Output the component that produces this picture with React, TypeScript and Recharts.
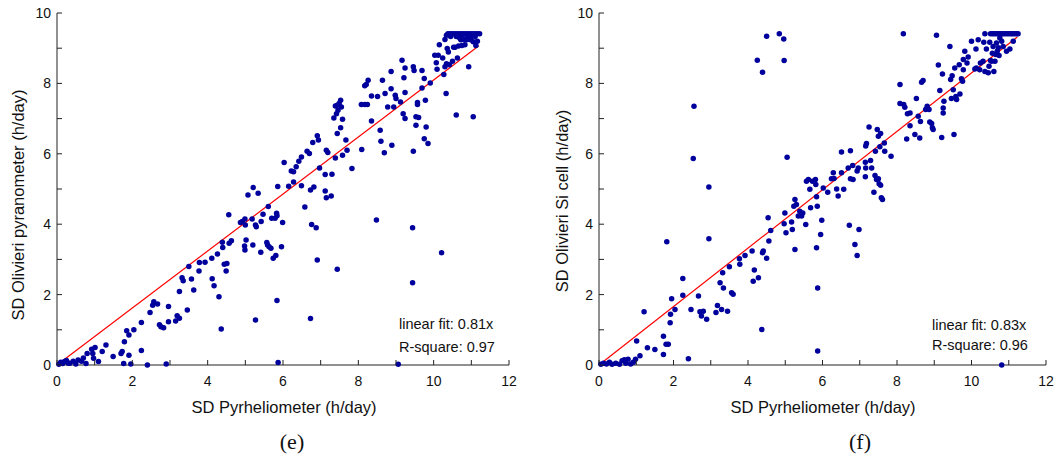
import React from 'react';
import { ScatterChart, Scatter, XAxis, YAxis, ReferenceLine } from 'recharts';

// axis ticks (minor every 1, labels every 2)
const xTicks = [0, 1, 2, 3, 4, 5, 6, 7, 8, 9, 10, 11, 12];
const yTicks = [0, 1, 2, 3, 4, 5, 6, 7, 8, 9, 10];
const xTickLabels = [0, 2, 4, 6, 8, 10, 12];
const yTickLabels = [0, 2, 4, 6, 8, 10];

// (e) SD pyrheliometer vs SD Olivieri pyranometer, h/day
const pyranometerPoints: [number, number][] = [
  [0.05, 0.02], [0.1, 0.08], [0.15, 0.04], [0.2, 0.1], [0.25, 0.13], [0.3, 0.05], [0.34, 0.05], [0.43, 0.11],
  [0.5, 0.03], [0.56, 0.14], [0.65, 0.11], [0.7, 0.2], [0.77, 0.04], [0.8, 0.33], [0.92, 0.45], [0.95, 0.33],
  [0.97, 0.19], [1.01, 0.5], [1.1, 0.1], [1.2, 0.38], [1.3, 0.57], [1.49, 0.24], [1.7, 0.33], [1.73, 0.38],
  [1.77, 0.04], [1.79, 0.66], [1.85, 0.97], [1.91, 0.85], [1.91, 0.28], [1.96, 0.03], [2.04, 1.0], [2.24, 0.41],
  [2.24, 1.21], [2.4, 0.0], [2.47, 1.49], [2.54, 1.7], [2.57, 1.8], [2.67, 1.73], [2.72, 1.14], [2.76, 1.09],
  [2.83, 1.06], [2.9, 0.03], [2.96, 1.66], [2.96, 1.23], [3.15, 1.25], [3.19, 1.4], [3.25, 1.33], [3.25, 2.09],
  [3.32, 2.48], [3.35, 2.39], [3.46, 1.56], [3.5, 2.8], [3.57, 2.44], [3.63, 2.13], [3.77, 2.67], [3.78, 2.91],
  [3.93, 2.92], [4.11, 3.03], [4.12, 2.45], [4.17, 2.25], [4.26, 3.15], [4.3, 1.94], [4.36, 1.02], [4.39, 3.49],
  [4.4, 3.34], [4.44, 2.86], [4.51, 2.88], [4.49, 2.67], [4.56, 4.27], [4.57, 3.46], [4.63, 3.53], [4.87, 4.05],
  [4.92, 4.08], [4.99, 4.15], [5.0, 3.98], [5.02, 3.55], [4.98, 3.38], [4.99, 3.27], [5.07, 4.83], [5.18, 4.15],
  [5.2, 3.41], [5.21, 5.04], [5.27, 3.98], [5.29, 3.93], [5.34, 4.88], [5.27, 1.28], [5.41, 3.2], [5.42, 4.08],
  [5.47, 4.28], [5.57, 3.48], [5.59, 3.41], [5.61, 4.5], [5.63, 3.36], [5.68, 3.32], [5.7, 4.17], [5.74, 3.03],
  [5.79, 4.17], [5.81, 3.11], [5.83, 4.31], [5.86, 5.07], [5.84, 1.83], [5.87, 0.07], [5.96, 3.36], [5.99, 4.05],
  [5.84, 4.24], [6.03, 5.75], [6.15, 5.08], [6.22, 5.51], [6.28, 5.49], [6.28, 5.2], [6.35, 5.63], [6.42, 5.79],
  [6.49, 5.91], [6.49, 5.09], [6.58, 4.49], [6.64, 6.07], [6.7, 6.01], [6.73, 4.97], [6.76, 3.99], [6.79, 6.32],
  [6.82, 5.06], [6.88, 3.9], [6.91, 6.51], [6.94, 6.39], [6.91, 2.98], [6.97, 5.6], [6.73, 1.32], [7.12, 5.41],
  [7.15, 6.1], [7.19, 6.04], [7.12, 4.94], [7.15, 4.75], [7.3, 5.42], [7.28, 4.8], [7.35, 7.02], [7.39, 5.88],
  [7.39, 7.36], [7.44, 7.38], [7.49, 7.43], [7.53, 7.52], [7.46, 7.24], [7.55, 7.33], [7.42, 7.14], [7.44, 6.58],
  [7.53, 6.74], [7.58, 6.98], [7.44, 2.72], [7.58, 5.96], [7.67, 6.39], [7.7, 6.1], [7.83, 5.58], [8.08, 7.4],
  [8.09, 6.12], [8.17, 7.4], [8.17, 7.93], [8.21, 7.97], [8.26, 8.09], [8.24, 7.4], [8.35, 6.93], [8.35, 7.64],
  [8.48, 4.12], [8.51, 7.63], [8.58, 6.67], [8.6, 6.36], [8.64, 8.09], [8.69, 6.03], [8.71, 7.71], [8.78, 7.33],
  [8.87, 8.34], [8.87, 7.85], [8.89, 6.24], [8.94, 7.33], [8.98, 7.66], [9.0, 7.57], [9.06, 0.02], [9.12, 7.47],
  [9.16, 8.66], [9.19, 7.14], [9.21, 8.16], [9.24, 7.0], [9.24, 7.74], [9.24, 8.44], [9.46, 8.47], [9.48, 8.37],
  [9.44, 3.9], [9.44, 2.34], [9.46, 6.07], [9.53, 7.05], [9.57, 7.4], [9.57, 7.46], [9.53, 6.81], [9.6, 7.03],
  [9.69, 7.87], [9.69, 8.37], [9.75, 8.14], [9.75, 6.43], [9.78, 7.52], [9.8, 6.76], [9.85, 6.29], [9.91, 8.01],
  [10.03, 8.8], [10.07, 8.59], [10.09, 8.4], [10.12, 8.8], [10.15, 9.1], [10.21, 3.19], [10.24, 8.72], [10.27, 8.25],
  [10.3, 8.47], [10.33, 7.71], [10.34, 8.56], [10.36, 8.99], [10.3, 9.25], [10.34, 9.37], [10.39, 8.89], [10.42, 8.53],
  [10.5, 8.63], [10.53, 9.03], [10.57, 9.03], [10.6, 7.1], [10.63, 8.72], [10.66, 9.06], [10.69, 9.29], [10.8, 9.25],
  [10.83, 9.1], [10.93, 8.47], [11.05, 7.05], [11.05, 9.18], [11.12, 9.08], [11.16, 9.2], [10.75, 9.08],
  [10.38, 9.41], [10.44, 9.41], [10.5, 9.41], [10.56, 9.41], [10.62, 9.41], [10.68, 9.41], [10.74, 9.41], [10.8, 9.41],
  [10.86, 9.41], [10.92, 9.41], [10.98, 9.41], [11.04, 9.41], [11.1, 9.41], [11.16, 9.41], [11.22, 9.41],
  [10.45, 9.33], [10.6, 9.33], [10.75, 9.33], [10.9, 9.33], [11.0, 9.33], [11.1, 9.33],
  [10.72, 9.24], [10.88, 9.24], [10.98, 9.24],
];

// (f) SD pyrheliometer vs SD Olivieri Si cell, h/day
const siCellPoints: [number, number][] = [
  [0.05, 0.02], [0.12, 0.05], [0.2, 0.03], [0.28, 0.08], [0.35, 0.02], [0.45, 0.05], [0.55, 0.02], [0.62, 0.12],
  [0.68, 0.15], [0.72, 0.05], [0.78, 0.16], [0.85, 0.03], [0.92, 0.08], [0.98, 0.16], [1.01, 0.68], [1.1, 0.26],
  [1.3, 0.49], [1.5, 0.44], [1.73, 0.3], [1.73, 0.82], [1.8, 0.59], [1.86, 0.59], [1.91, 1.2], [1.92, 1.44],
  [1.95, 1.88], [2.04, 1.58], [1.82, 3.5], [1.21, 1.51], [2.25, 2.46], [2.25, 1.98], [2.4, 0.18], [2.47, 1.58],
  [2.55, 7.35], [2.53, 5.87], [2.67, 1.96], [2.71, 1.51], [2.75, 1.39], [2.8, 1.53], [2.89, 1.3], [2.95, 5.06],
  [2.95, 3.59], [3.14, 1.49], [3.18, 1.69], [3.25, 2.34], [3.29, 1.58], [3.32, 2.62], [3.34, 2.19], [3.45, 1.53],
  [3.5, 2.79], [3.56, 2.05], [3.6, 2.01], [3.77, 3.02], [3.78, 2.86], [3.92, 3.11], [4.11, 3.24], [4.14, 2.38],
  [4.17, 2.7], [4.28, 2.48], [4.37, 1.01], [4.39, 3.19], [4.41, 3.24], [4.5, 3.03], [4.54, 4.18], [4.56, 3.52],
  [4.61, 3.82], [4.39, 8.32], [4.25, 8.66], [4.5, 9.34], [4.84, 9.41], [4.96, 9.26], [4.97, 8.65], [5.05, 5.9],
  [4.99, 4.32], [4.97, 4.01], [5.02, 3.76], [5.17, 4.06], [5.19, 3.85], [5.23, 4.51], [5.26, 4.7], [5.26, 3.28],
  [5.3, 4.56], [5.35, 4.23], [5.39, 4.37], [5.44, 4.23], [5.47, 4.32], [5.55, 3.99], [5.57, 5.22], [5.62, 5.27],
  [5.68, 4.47], [5.66, 4.99], [5.73, 5.22], [5.81, 5.27], [5.82, 5.13], [5.84, 4.78], [5.84, 3.33], [5.86, 4.51],
  [5.87, 2.19], [5.87, 0.4], [5.98, 4.11], [5.95, 3.71], [6.02, 5.03], [6.14, 4.91], [6.24, 5.29], [6.29, 5.46],
  [6.31, 5.3], [6.38, 5.0], [6.42, 4.8], [6.51, 5.46], [6.51, 6.05], [6.57, 4.99], [6.69, 5.6], [6.72, 3.97],
  [6.75, 6.09], [6.75, 5.29], [6.81, 5.67], [6.82, 5.27], [6.87, 3.42], [6.93, 5.51], [6.93, 3.11], [6.96, 5.6],
  [6.98, 3.85], [7.15, 5.35], [7.15, 5.76], [7.16, 6.22], [7.18, 6.29], [7.16, 5.6], [7.25, 6.76], [7.29, 5.81],
  [7.32, 5.6], [7.38, 4.91], [7.41, 5.38], [7.42, 6.07], [7.45, 5.27], [7.47, 6.69], [7.5, 6.5], [7.5, 5.29],
  [7.52, 5.15], [7.54, 6.2], [7.56, 6.58], [7.56, 5.11], [7.58, 4.75], [7.61, 4.7], [7.66, 6.31], [7.67, 6.07],
  [7.84, 5.93], [8.08, 7.97], [8.08, 7.43], [8.17, 9.41], [8.18, 7.4], [8.21, 7.32], [8.26, 6.42], [8.28, 7.14],
  [8.35, 7.16], [8.35, 6.8], [8.48, 6.55], [8.52, 7.57], [8.57, 7.07], [8.61, 6.45], [8.63, 6.92], [8.66, 8.03],
  [8.7, 8.08], [8.77, 7.26], [8.81, 7.35], [8.86, 7.26], [8.88, 6.9], [8.93, 6.86], [8.95, 6.74], [8.97, 6.69],
  [9.06, 9.37], [9.11, 8.52], [9.15, 7.8], [9.2, 6.46], [9.22, 8.27], [9.24, 7.16], [9.24, 7.3], [9.26, 7.49],
  [9.42, 9.05], [9.44, 8.11], [9.48, 8.22], [9.46, 7.57], [9.51, 7.82], [9.53, 6.55], [9.55, 8.44], [9.58, 7.63],
  [9.6, 7.54], [9.67, 8.53], [9.69, 7.7], [9.73, 8.13], [9.76, 8.06], [9.78, 8.68], [9.78, 8.39], [9.82, 8.91],
  [9.88, 8.58], [9.91, 8.75], [10.0, 9.2], [10.09, 8.41], [10.12, 8.98], [10.13, 8.44], [10.18, 9.24], [10.22, 8.39],
  [10.24, 8.58], [10.31, 8.63], [10.33, 9.17], [10.36, 9.41], [10.36, 8.34], [10.4, 8.98], [10.45, 8.3], [10.47, 8.49],
  [10.49, 9.17], [10.51, 8.65], [10.54, 8.63], [10.56, 8.86], [10.58, 9.05], [10.6, 8.34], [10.63, 8.63], [10.65, 8.82],
  [10.67, 9.15], [10.69, 8.91], [10.72, 9.01], [10.74, 8.79], [10.76, 9.29], [10.81, 9.2], [10.85, 9.05], [10.94, 8.91],
  [11.03, 8.98], [11.12, 9.2], [10.81, 0.0],
  [10.51, 9.41], [10.56, 9.41], [10.61, 9.41], [10.66, 9.41], [10.71, 9.41], [10.76, 9.41], [10.81, 9.41], [10.86, 9.41],
  [10.91, 9.41], [10.96, 9.41], [11.01, 9.41], [11.06, 9.41], [11.11, 9.41], [11.16, 9.41], [11.21, 9.41], [11.25, 9.41],
];

// linear fits through the origin
const pyranometerFit = [{ x: 0, y: 0 }, { x: 11.2, y: 9.07 }];
const siCellFit = [{ x: 0, y: 0 }, { x: 11.23, y: 9.32 }];

const AXIS = '#222';
const DOT = '#00009c';
const FIT = '#ff0000';
const TICK = 5;
const SANS = '"Liberation Sans", Arial, sans-serif';

const tickText = { fontSize: 14, fontFamily: SANS, fill: '#111' };

function BottomTick({ x, y, payload }: any) {
  return (
    <g>
      <line x1={x} y1={y} x2={x} y2={y - TICK} stroke={AXIS} />
      {xTickLabels.includes(payload.value) && (
        <text x={x} y={y + 20.5} textAnchor="middle" {...tickText}>{payload.value}</text>
      )}
    </g>
  );
}

function TopTick({ x, y }: any) {
  return <line x1={x} y1={y} x2={x} y2={y + TICK} stroke={AXIS} />;
}

function LeftTick({ x, y, payload }: any) {
  return (
    <g>
      <line x1={x} y1={y} x2={x + TICK} y2={y} stroke={AXIS} />
      {yTickLabels.includes(payload.value) && (
        <text x={x - 6} y={y + 5} textAnchor="end" {...tickText}>{payload.value}</text>
      )}
    </g>
  );
}

function RightTick({ x, y }: any) {
  return <line x1={x} y1={y} x2={x - TICK} y2={y} stroke={AXIS} />;
}

const Dot = (props: any) => <circle cx={props.cx} cy={props.cy} r={2.75} fill={DOT} />;

interface PanelProps {
  points: [number, number][];
  fit: { x: number; y: number }[];
  width: number;
  margin: { top: number; right: number; bottom: number; left: number };
}

function Panel({ points, fit, width, margin }: PanelProps) {
  const data = points.map(([x, y]) => ({ x, y }));
  const axisCommon = { tickSize: 0, tickMargin: 0, tickLine: false, interval: 0 as const };
  return (
    <ScatterChart width={width} height={457} margin={margin}>
      <XAxis type="number" dataKey="x" domain={[0, 12]} ticks={xTicks} height={30}
        axisLine={{ stroke: AXIS }} tick={<BottomTick />} {...axisCommon} />
      <XAxis xAxisId="top" orientation="top" type="number" dataKey="x" domain={[0, 12]} ticks={xTicks} height={0}
        axisLine={{ stroke: AXIS }} tick={<TopTick />} {...axisCommon} />
      <YAxis type="number" dataKey="y" domain={[0, 10]} ticks={yTicks} width={50}
        axisLine={{ stroke: AXIS }} tick={<LeftTick />} {...axisCommon} />
      <YAxis yAxisId="right" orientation="right" type="number" dataKey="y" domain={[0, 10]} ticks={yTicks} width={0}
        axisLine={{ stroke: AXIS }} tick={<RightTick />} {...axisCommon} />
      <Scatter data={data} shape={Dot} isAnimationActive={false} />
      <ReferenceLine segment={fit} stroke={FIT} strokeWidth={1.2} />
    </ScatterChart>
  );
}

const abs = (left: number, top: number, extra: React.CSSProperties = {}): React.CSSProperties => ({
  position: 'absolute', left, top, whiteSpace: 'nowrap', fontFamily: SANS, color: '#111', ...extra,
});

export default function App() {
  return (
    <div style={{ position: 'absolute', left: 0, top: 0, width: 1057, height: 457, background: '#fff', overflow: 'hidden' }}>
      <div style={{ position: 'absolute', left: 0, top: 0 }}>
        <Panel points={pyranometerPoints} fit={pyranometerFit} width={530}
          margin={{ top: 13, right: 21, bottom: 62, left: 7 }} />
      </div>
      <div style={{ position: 'absolute', left: 540, top: 0 }}>
        <Panel points={siCellPoints} fit={siCellFit} width={517}
          margin={{ top: 13, right: 11, bottom: 62, left: 9 }} />
      </div>

      {/* axis titles */}
      <div style={abs(18, 205, { fontSize: 16.5, transform: 'translate(-50%, -50%) rotate(-90deg)' })}>
        SD Olivieri pyranometer (h/day)
      </div>
      <div style={abs(562, 201, { fontSize: 16.5, transform: 'translate(-50%, -50%) rotate(-90deg)' })}>
        SD Olivieri Si cell (h/day)
      </div>
      <div style={abs(284, 407, { fontSize: 16.5, transform: 'translate(-50%, -50%)' })}>SD Pyrheliometer (h/day)</div>
      <div style={abs(823, 407, { fontSize: 16.5, transform: 'translate(-50%, -50%)' })}>SD Pyrheliometer (h/day)</div>

      {/* fit annotations */}
      <div style={abs(399, 324, { fontSize: 14.5, transform: 'translateY(-50%)' })}>linear fit: 0.81x</div>
      <div style={abs(399, 347, { fontSize: 14.5, transform: 'translateY(-50%)' })}>R-square: 0.97</div>
      <div style={abs(932, 325, { fontSize: 14.5, transform: 'translateY(-50%)' })}>linear fit: 0.83x</div>
      <div style={abs(932, 345, { fontSize: 14.5, transform: 'translateY(-50%)' })}>R-square: 0.96</div>

      {/* panel letters */}
      <div style={abs(292, 442, { fontSize: 22, fontFamily: '"Liberation Serif", "Times New Roman", serif', transform: 'translate(-50%, -50%)' })}>(e)</div>
      <div style={abs(860, 442, { fontSize: 22, fontFamily: '"Liberation Serif", "Times New Roman", serif', transform: 'translate(-50%, -50%)' })}>(f)</div>
    </div>
  );
}
